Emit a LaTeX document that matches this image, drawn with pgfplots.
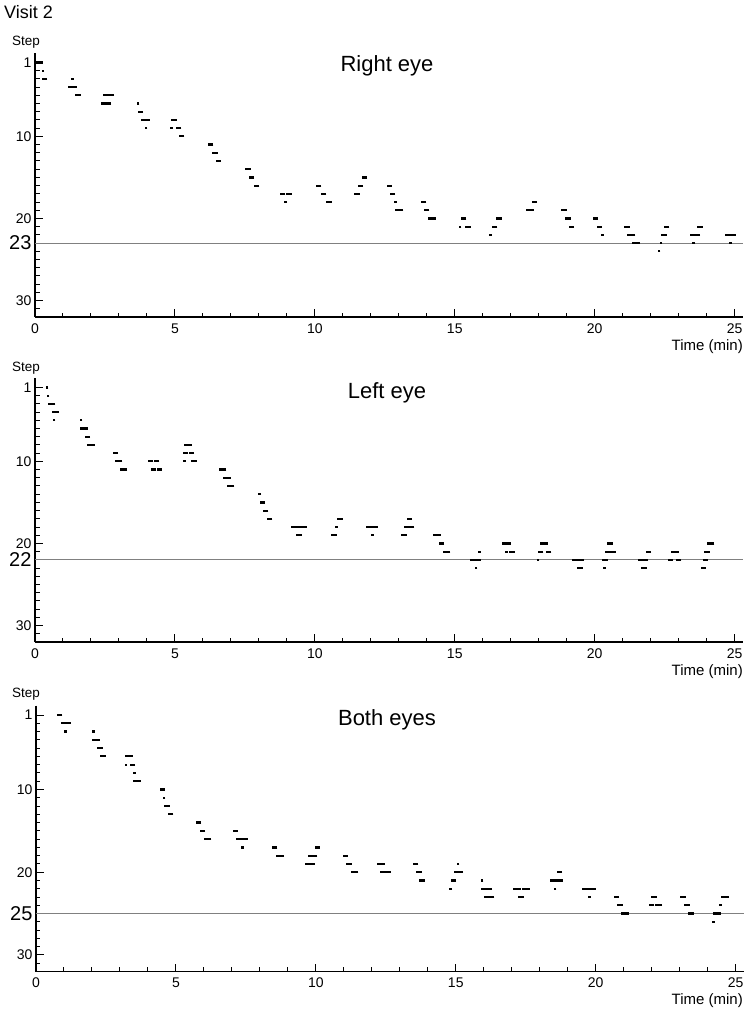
\documentclass[border=0pt]{standalone}
\usepackage{fontspec}
\setmainfont{Liberation Sans}
\usepackage{pgfplots}
\pgfplotsset{compat=1.18}
\pgfplotsset{
  eyeaxis/.style={
    scale only axis, width=708pt, height=264pt,
    xmin=0, xmax=25.3, ymin=-0.15, ymax=32, y dir=reverse,
    axis x line*=bottom, axis y line*=left,
    axis line style={line width=1.1pt, -},
    tick align=inside,
    xtick={0,5,...,25}, minor xtick={1,...,24},
    ytick={1,10,20,30}, minor ytick={2,...,31},
    major tick length=8pt, minor tick length=4.5pt,
    tick style={black, line width=1pt},
    tick label style={font=\fontsize{14}{14}\selectfont},
    xticklabel style={yshift=-3pt},
    /pgf/number format/assume math mode=true,
    extra y tick style={tick label style={font=\fontsize{20}{20}\selectfont}},
    clip=false,
  },
  dash/.style={only marks, mark=-, mark size=2.7pt, black, mark options={line width=2.2pt}},
  dot/.style={only marks, mark=-, mark size=1.3pt, black, mark options={line width=2.2pt}},
  thr/.style={no marks, color=gray, line width=0.9pt},
}
\begin{document}
\begin{tikzpicture}
\useasboundingbox (0pt,0pt) rectangle (750pt,-1010pt);

% Right eye
\begin{axis}[eyeaxis, at={(35pt,-317pt)}, anchor=south west,
  extra y ticks={23}, extra y tick labels={23}]
\addplot[thr] coordinates {(0,23) (25.3,23)};
\addplot[dash] coordinates {
(0.08,1) (0.18,1) (0.35,3) (1.27,4) (1.40,4) (1.53,5) (2.53,5) (2.73,5) (2.46,6) (2.62,6)
(3.77,7) (3.88,8) (4.0,8) (4.97,8) (5.13,9) (5.24,10) (6.28,11) (6.43,12) (6.55,13)
(7.61,14) (7.73,15) (7.92,16) (8.85,17) (9.07,17) (10.14,16) (10.32,17) (10.5,18)
(11.5,17) (11.63,16) (11.77,15) (12.66,16) (12.77,17) (12.97,19) (13.07,19) (13.89,18)
(14.0,19) (14.13,20) (14.22,20) (15.32,20) (15.48,21) (16.43,21) (16.58,20) (17.63,19)
(17.73,19) (17.85,18) (18.9,19) (19.04,20) (19.17,21) (20.03,20) (20.17,21) (21.16,21)
(21.26,22) (21.36,22) (21.43,23) (21.53,23) (22.47,22) (22.57,21) (23.5,22) (23.67,22)
(23.76,21) (24.76,22) (24.95,22)};
\addplot[dot] coordinates {
(0.28,2) (1.33,3) (3.68,6) (3.97,9) (4.87,9) (8.96,18) (12.88,18) (15.19,21) (16.28,22)
(20.28,22) (22.3,24) (22.37,23) (23.54,23) (24.85,23)};
\end{axis}

% Left eye
\begin{axis}[eyeaxis, at={(35pt,-642pt)}, anchor=south west,
  extra y ticks={22}, extra y tick labels={22}]
\addplot[thr] coordinates {(0,22) (25.3,22)};
\addplot[dash] coordinates {
(0.55,3) (0.63,3) (0.69,4) (0.77,4) (1.72,6) (1.8,6) (1.87,7) (1.95,8) (2.03,8) (2.87,9)
(2.95,10) (3.03,10) (3.12,11) (3.2,11) (4.13,10) (4.35,10) (4.24,11) (4.44,11) (5.38,9)
(5.59,9) (5.41,8) (5.5,8) (5.68,10) (6.66,11) (6.74,11) (6.82,12) (6.9,12) (6.95,13)
(7.03,13) (8.12,15) (8.24,16) (8.39,17) (9.25,18) (9.33,18) (9.54,18) (9.62,18) (9.43,19)
(10.68,19) (10.9,17) (11.94,18) (12.02,18) (12.15,18) (13.19,19) (13.28,18) (13.46,18)
(13.38,17) (14.32,19) (14.4,19) (14.52,20) (14.66,21) (14.75,21) (15.65,22) (15.75,22)
(15.83,22) (16.78,20) (16.9,20) (17.04,21) (18.07,21) (18.14,20) (18.23,20) (18.36,21)
(19.3,22) (19.42,22) (19.53,22) (19.47,23) (20.37,22) (20.47,21) (20.55,20) (20.66,21)
(21.63,22) (21.73,22) (21.82,22) (21.76,23) (21.92,21) (22.7,22) (23.0,22) (22.81,21)
(22.9,21) (23.88,23) (23.95,22) (24.01,21) (24.1,20) (24.18,20)};
\addplot[dot] coordinates {
(0.43,1) (0.47,2) (0.68,5) (1.65,5) (5.34,10) (8.03,14) (10.78,18) (12.05,19) (15.76,23)
(15.89,21) (16.85,21) (17.98,22) (20.34,23)};
\end{axis}

% Both eyes
\begin{axis}[eyeaxis, height=266pt, at={(36pt,-971.5pt)}, anchor=south west,
  extra y ticks={25}, extra y tick labels={25}]
\addplot[thr] coordinates {(0,25) (25.3,25)};
\addplot[dash] coordinates {
(0.85,1) (0.98,2) (1.07,2) (1.15,2) (2.1,4) (2.19,4) (2.29,5) (2.4,6) (3.28,6) (3.36,6)
(3.45,7) (3.57,9) (3.65,9) (4.51,10) (4.68,12) (4.81,13) (5.8,14) (5.95,15) (6.09,16)
(6.17,16) (7.12,15) (7.24,16) (7.36,16) (7.47,16) (8.53,17) (8.69,18) (8.77,18) (9.71,19)
(9.87,19) (9.8,18) (9.96,18) (10.05,17) (11.05,18) (11.19,19) (11.34,20) (11.42,20)
(12.28,19) (12.36,19) (12.4,20) (12.49,20) (12.58,20) (13.57,19) (13.69,20) (13.8,21)
(14.92,21) (15.02,20) (15.1,20) (15.17,20) (16.01,22) (16.2,22) (16.1,23) (16.19,23)
(16.28,23) (17.15,22) (17.23,22) (17.46,22) (17.54,22) (17.33,23) (18.47,21) (18.6,21)
(18.73,21) (18.7,20) (19.62,22) (19.72,22) (19.82,22) (19.9,22) (20.74,23) (20.87,24)
(21.01,25) (21.1,25) (22.08,23) (22.0,24) (22.2,24) (22.28,24) (23.12,23) (23.27,24)
(23.41,25) (24.3,25) (24.38,25) (24.59,23) (24.67,23)};
\addplot[dot] coordinates {
(1.06,3) (2.05,3) (3.21,7) (3.51,8) (4.58,11) (7.37,17) (14.82,22) (15.08,19) (15.94,21)
(18.55,22) (19.78,23) (24.2,26) (24.46,24)};
\end{axis}

% texts
\node[anchor=base west, inner sep=0pt, font=\fontsize{18}{18}\selectfont] at (4pt,-18pt) {Visit 2};
\foreach \yb in {45,371,697}
  \node[anchor=base, inner sep=0pt, font=\fontsize{13.5}{13.5}\selectfont] at (26pt,-\yb pt) {Step};
\node[anchor=base, inner sep=0pt, font=\fontsize{22}{22}\selectfont] at (387pt,-71pt) {Right eye};
\node[anchor=base, inner sep=0pt, font=\fontsize{22}{22}\selectfont] at (387pt,-398pt) {Left eye};
\node[anchor=base, inner sep=0pt, font=\fontsize{22}{22}\selectfont] at (387pt,-725pt) {Both eyes};
\foreach \yb in {350,675,1004}
  \node[anchor=base east, inner sep=0pt, font=\fontsize{15}{15}\selectfont] at (743pt,-\yb pt) {Time (min)};
\end{tikzpicture}
\end{document}
